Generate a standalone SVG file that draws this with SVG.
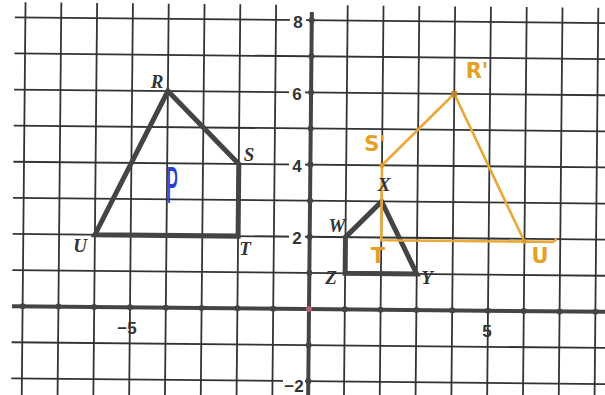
<svg xmlns="http://www.w3.org/2000/svg" width="605" height="395" viewBox="0 0 605 395">
  <style>
    .grid { stroke: #333; stroke-width: 1.8; fill: none; }
    .axis { stroke: #444; stroke-width: 4; fill: none; }
    .tick { fill: #444; }
    .num { font-family: "Liberation Sans", Arial, sans-serif; font-weight: bold; font-size: 17px; fill: #333; text-anchor: middle; dominant-baseline: central; }
    .lbl { font-family: "Liberation Serif", "Times New Roman", serif; font-style: italic; font-weight: bold; font-size: 19px; fill: #333; text-anchor: middle; dominant-baseline: central; }
    .hand { font-family: "DejaVu Sans", sans-serif; font-weight: bold; font-size: 21px; fill: #e3a225; text-anchor: middle; dominant-baseline: central; }
    .shape { fill: none; stroke: #444; stroke-width: 5; stroke-linejoin: miter; }
    .img { fill: none; stroke: #e8a83a; stroke-width: 2.6; stroke-linejoin: round; }
  </style>
  <rect width="605" height="395" fill="#ffffff"/>
  <g id="plane" transform="rotate(0.55 309 309)">
    <g id="grid" class="grid">
      <path d="M22.6 5V400M58.4 5V400M94.2 5V400M130 5V400M165.8 5V400M201.6 5V400M237.4 5V400M273.2 5V400M344.8 5V400M380.6 5V400M416.4 5V400M452.2 5V400M488 5V400M523.8 5V400M559.6 5V400M595.4 5V400"/>
      <path d="M12 20.2H610M12 56.3H610M12 92.4H610M12 128.5H610M12 164.6H610M12 200.7H610M12 236.8H610M12 272.9H610M12 345.1H610M12 381.2H610"/>
    </g>
    <g id="axes" class="axis">
      <path d="M12 309H610"/>
      <path d="M309 12V400"/>
    </g>
    <g id="ticks" class="tick">
      <circle cx="22.6" cy="309" r="3"/><circle cx="58.4" cy="309" r="3"/><circle cx="94.2" cy="309" r="3"/><circle cx="130" cy="309" r="3"/><circle cx="165.8" cy="309" r="3"/><circle cx="201.6" cy="309" r="3"/><circle cx="237.4" cy="309" r="3"/><circle cx="273.2" cy="309" r="3"/><circle cx="344.8" cy="309" r="3"/><circle cx="380.6" cy="309" r="3"/><circle cx="416.4" cy="309" r="3"/><circle cx="452.2" cy="309" r="3"/><circle cx="488" cy="309" r="3"/><circle cx="523.8" cy="309" r="3"/><circle cx="559.6" cy="309" r="3"/><circle cx="595.4" cy="309" r="3"/>
      <circle cx="309" cy="20.2" r="3"/><circle cx="309" cy="56.3" r="3"/><circle cx="309" cy="92.4" r="3"/><circle cx="309" cy="128.5" r="3"/><circle cx="309" cy="164.6" r="3"/><circle cx="309" cy="200.7" r="3"/><circle cx="309" cy="236.8" r="3"/><circle cx="309" cy="272.9" r="3"/><circle cx="309" cy="345.1" r="3"/><circle cx="309" cy="381.2" r="3"/>
      <circle cx="309" cy="309" r="3" fill="#b06070"/>
    </g>
    <g id="RSTU">
      <polygon class="shape" points="165.8,92.4 237.4,164.6 237.4,236.8 94.2,236.8"/>
    </g>
    <g id="WXYZ">
      <polygon class="shape" points="344.8,236.8 380.6,200.7 416.4,272.9 344.8,272.9"/>
    </g>
    <g id="RSTU-image">
      <path class="img" d="M380.6 164.6L452.2 92.4L523.8 239.5M380.6 164.6V239.5H553"/>
      <path class="img" d="M553 239.5l3 -3" stroke-width="1.6"/>
      <circle cx="452.2" cy="92.4" r="3.2" fill="#b8862a"/>
      <circle cx="380.6" cy="164.6" r="2.6" fill="#d99a2b"/>
      <circle cx="523.8" cy="239.5" r="2.4" fill="#d99a2b"/>
    </g>
  </g>
  <g id="axis-labels">
    <rect x="290" y="12" width="16" height="20" fill="#fff"/>
    <text class="num" x="298" y="22">8</text>
    <rect x="289" y="84" width="16" height="20" fill="#fff"/>
    <text class="num" x="297" y="94">6</text>
    <rect x="289" y="156" width="16" height="20" fill="#fff"/>
    <text class="num" x="297" y="166">4</text>
    <rect x="289" y="228" width="16" height="20" fill="#fff"/>
    <text class="num" x="297" y="238">2</text>
    <rect x="283" y="377" width="22" height="20" fill="#fff"/>
    <text class="num" x="294" y="386">−2</text>
    <text class="num" x="127" y="328">−5</text>
    <text class="num" x="487" y="331">5</text>
  </g>
  <g id="vertex-labels">
    <text class="lbl" x="157" y="81">R</text>
    <text class="lbl" x="249" y="154">S</text>
    <text class="lbl" x="245" y="248">T</text>
    <text class="lbl" x="80" y="245">U</text>
    <text class="lbl" x="337" y="225">W</text>
    <text class="lbl" x="384" y="184">X</text>
    <text class="lbl" x="331" y="277">Z</text>
    <text class="lbl" x="427" y="277">Y</text>
  </g>
  <g id="image-labels">
    <text class="hand" x="375" y="144">S'</text>
    <text class="hand" x="477" y="71">R'</text>
    <text class="hand" x="378" y="256" font-size="18">T</text>
    <text class="hand" x="540" y="256">U</text>
  </g>
  <g id="figure-name">
    <text x="0" y="0" font-family="DejaVu Sans, sans-serif" font-size="28" fill="#2a3fd0" text-anchor="middle" dominant-baseline="central" transform="translate(172 186) scale(0.7 1.75)">P</text>
  </g>
</svg>
